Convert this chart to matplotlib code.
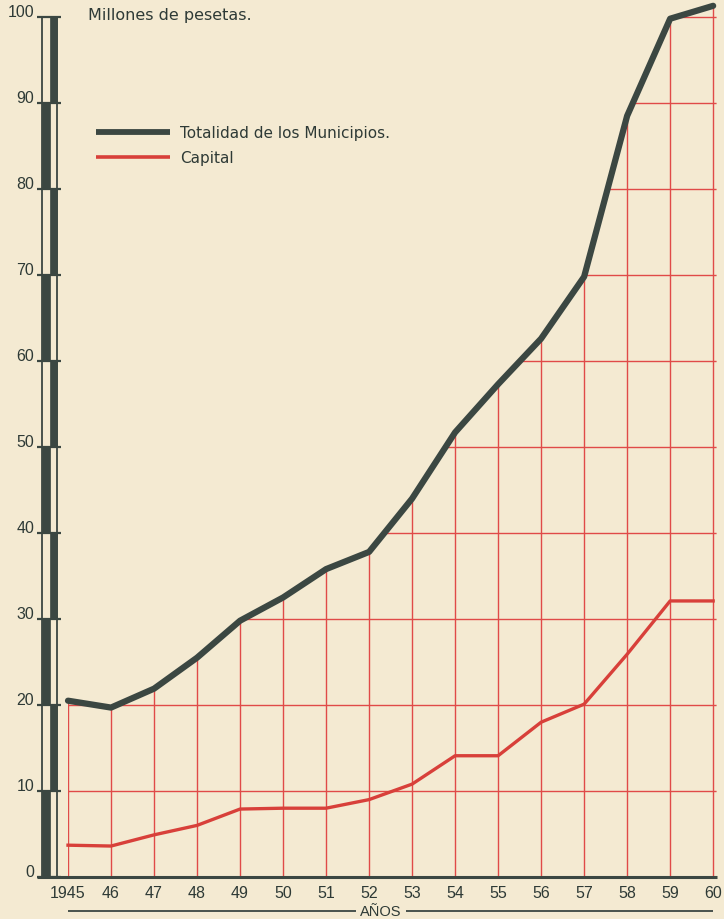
import matplotlib
matplotlib.use("Agg")

import numpy as np
import matplotlib.pyplot as plt
from matplotlib.patches import Polygon, Rectangle

# data (millones de pesetas)
years = np.arange(1945, 1961)
year_labels = ["1945", "46", "47", "48", "49", "50", "51", "52",
               "53", "54", "55", "56", "57", "58", "59", "60"]
totalidad = [20.5, 19.7, 21.9, 25.5, 29.8, 32.5, 35.8, 37.8,
             44.0, 51.7, 57.3, 62.6, 69.8, 88.5, 99.8, 101.3]
capital = [3.7, 3.6, 4.9, 6.0, 7.9, 8.0, 8.0, 9.0,
           10.8, 14.1, 14.1, 18.0, 20.1, 25.9, 32.1, 32.1]
y_ticks = list(range(0, 101, 10))

paper = "#f4ead2"
dark = "#3b4742"
ink = "#2e3a36"
red_line = "#d8403a"
red_grid = "#e04a48"
num_font = ["Liberation Sans", "DejaVu Sans"]

fig = plt.figure(figsize=(7.24, 9.2), dpi=100, facecolor=paper)
# 43 px per year, 8.6 px per million
ax = fig.add_axes([33.6 / 724, 33.4 / 920, 686 / 724, 885.8 / 920])
ax.set_facecolor(paper)
ax.set_xlim(1944.2, 1960.15)
ax.set_ylim(-1, 102)
ax.axis("off")

# red grid, only under the black curve
x_end = 1960.08
clip = Polygon([(1945, 0)] + list(zip(years, totalidad)) +
               [(x_end, totalidad[-1]), (x_end, 0)],
               closed=True, transform=ax.transData, facecolor="none",
               edgecolor="none")
ax.add_patch(clip)
vl = ax.vlines(years, 0, 102, color=red_grid, lw=1.0, zorder=1)
hl = ax.hlines(y_ticks[1:], 1945, x_end, color=red_grid, lw=1.0, zorder=1)
vl.set_clip_path(clip)
hl.set_clip_path(clip)

# series
ax.plot(years, capital, color=red_line, lw=2.4, zorder=3,
        solid_joinstyle="round")
ax.plot(years, totalidad, color=dark, lw=4.5, zorder=4,
        solid_joinstyle="round", solid_capstyle="round")

# x axis line
ax.hlines(0, 1944.28, 1960.1, color=dark, lw=2.2, zorder=5)

# double y axis bar, halves filled alternately
bx0, bw = 1944.395, 0.175
ax.add_patch(Rectangle((bx0, 0), 2 * bw, 100, fill=False,
                       edgecolor=dark, lw=1.3, zorder=5))
for i in range(10):
    x0 = bx0 if i % 2 == 0 else bx0 + bw
    ax.add_patch(Rectangle((x0, 10 * i), bw, 10, facecolor=dark,
                           edgecolor=dark, lw=0.5, zorder=5))
ax.hlines(y_ticks, 1944.279, 1944.83, color=dark, lw=1.6, zorder=6)

for v in y_ticks:
    ax.text(1944.21, v + 0.15, str(v), ha="right", va="baseline",
            fontsize=11.5, family=num_font, color=ink)

for x, lab in zip(years, year_labels):
    ax.text(x, -1.75, lab, ha="center", va="center", fontsize=11.5,
            family=num_font, color=ink)

# AÑOS
ax.text(1952.28, -3.95, "AÑOS", ha="center", va="center", fontsize=10.5,
        family=num_font, color=ink)
ax.hlines(-3.95, 1945, 1951.7, color=dark, lw=1.3, clip_on=False)
ax.hlines(-3.95, 1952.86, 1960, color=dark, lw=1.3, clip_on=False)

# unit and legend
ax.text(1945.47, 100.3, "Millones de pesetas.", ha="left", va="center",
        fontsize=11.5, color=ink)
ax.plot([1945.65, 1947.37], [86.6, 86.6], color=dark, lw=4.2,
        solid_capstyle="butt")
ax.plot([1945.65, 1947.37], [83.7, 83.7], color=red_line, lw=2.6,
        solid_capstyle="butt")
ax.text(1947.6, 86.6, "Totalidad de los Municipios.", ha="left",
        va="center", fontsize=11, color=ink)
ax.text(1947.6, 83.7, "Capital", ha="left", va="center", fontsize=11,
        color=ink)

fig.savefig("out.png", dpi=100, facecolor=paper)
